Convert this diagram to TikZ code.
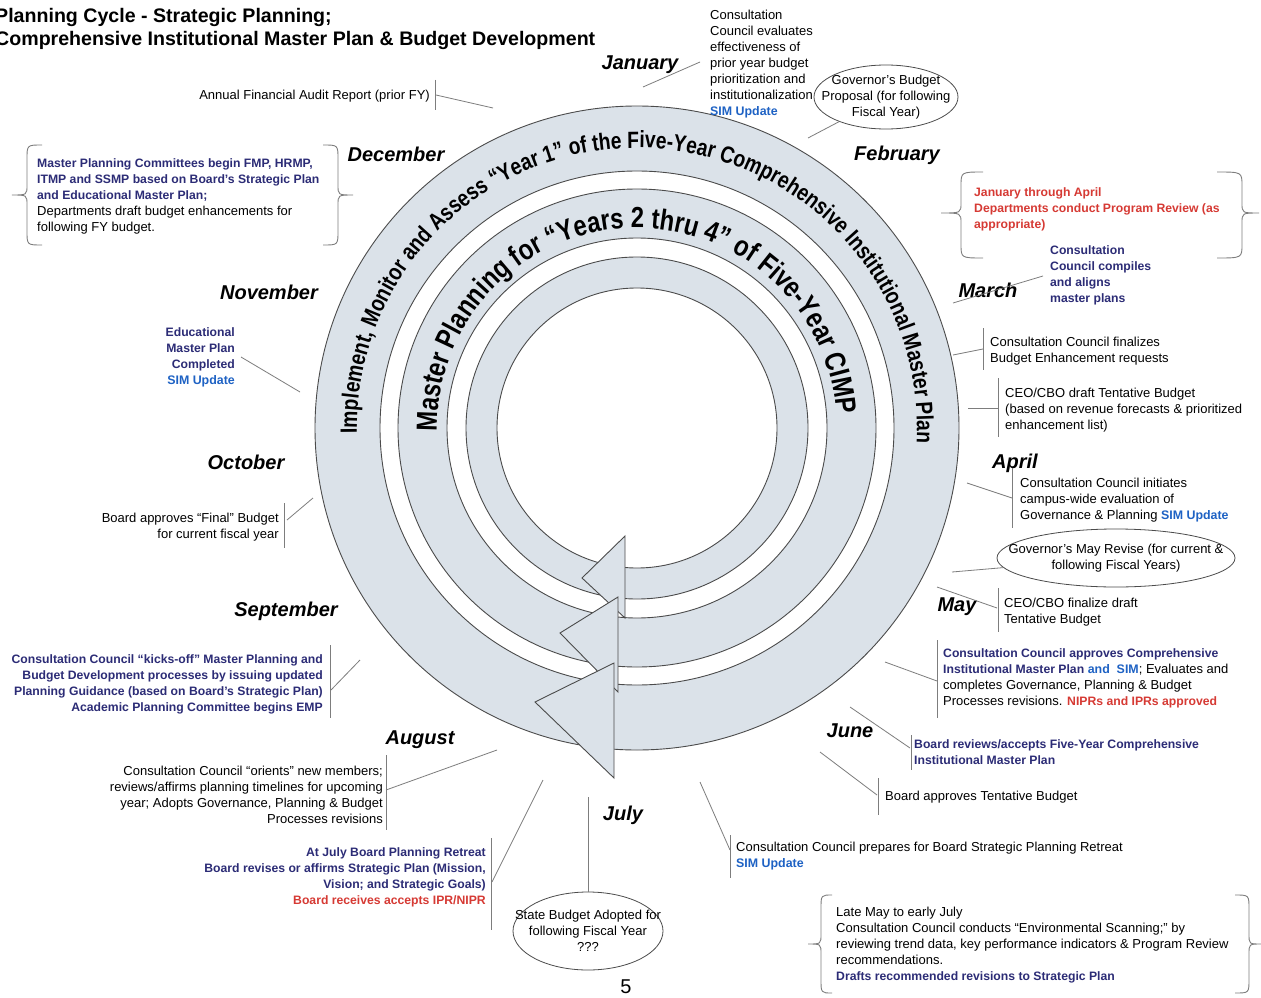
\documentclass[tikz,border=0pt]{standalone}
\usepackage{fontspec}
\setmainfont{Liberation Sans}
\newfontfamily\ringfont[FakeStretch=0.82]{Liberation Sans}
\usetikzlibrary{shapes.geometric,decorations.text}

\definecolor{cnavy}{RGB}{44,44,118}
\definecolor{cblue}{RGB}{30,98,196}
\definecolor{cred}{RGB}{214,58,52}
\definecolor{ringfill}{RGB}{219,226,233}
\definecolor{ringline}{RGB}{75,75,75}
\definecolor{leadgray}{RGB}{125,125,125}

\newcommand{\navytxt}[1]{{\fontsize{12.2}{16}\selectfont\bfseries\color{cnavy}#1}}
\newcommand{\bluetxt}[1]{{\fontsize{12.4}{16}\selectfont\bfseries\color{cblue}#1}}
\newcommand{\redtxt}[1]{{\fontsize{12.2}{16}\selectfont\bfseries\color{cred}#1}}

% curly brace: tip x, stem x, point x, top y, middle y, bottom y (y measured downwards)
\newcommand{\bracketcurve}[6]{%
  \draw[bracestyle] (#1,-#4) .. controls (#2,-#4) .. (#2,{-#4-14})
    -- (#2,{-#5+10}) .. controls (#2,-#5) .. (#3,-#5)
    .. controls (#2,-#5) .. (#2,{-#5-10})
    -- (#2,{-#6+14}) .. controls (#2,-#6) .. (#1,-#6);}

\begin{document}
\begin{tikzpicture}[x=1pt,y=1pt,
  ring/.style={fill=ringfill,draw=ringline,line width=0.9pt},
  leader/.style={draw=leadgray,line width=0.8pt},
  bracestyle/.style={draw=leadgray,line width=0.9pt},
  txt/.style={font=\fontsize{13}{16}\selectfont,inner sep=0pt},
  ltxt/.style={txt,align=left,anchor=north west},
  rtxt/.style={txt,align=right,anchor=north east},
  ctxt/.style={txt,align=center,anchor=center},
  month/.style={font=\fontsize{20}{24}\selectfont\bfseries\itshape,inner sep=0pt},
  bubble/.style={ellipse,draw=ringline,line width=0.8pt,fill=white,inner sep=0pt},
  heading/.style={font=\fontsize{19.6}{23}\selectfont\bfseries,inner sep=0pt,align=left,anchor=north west}]

\path[fill=white] (0,0) rectangle (1261,-998);
\useasboundingbox (0,0) rectangle (1261,-998);

% ---------- concentric planning rings ----------
\begin{scope}[shift={(637,-428)}]
  \coordinate (hub) at (0,0);
  \path[ring,even odd rule] (hub) circle[radius=322] (hub) circle[radius=257];
  \path[ring,even odd rule] (hub) circle[radius=239] (hub) circle[radius=190];
  \path[ring,even odd rule] (hub) circle[radius=171] (hub) circle[radius=140];
  \path[decorate,decoration={text along path,text align=center,
     text={|\ringfont\fontsize{23.5}{24}\selectfont\bfseries|Implement, Monitor and Assess “Year 1” of the Five-Year Comprehensive Institutional Master Plan}}]
     (199:280) arc[start angle=199,end angle=-21,radius=280];
  \path[decorate,decoration={text along path,text align=center,
     text={|\ringfont\fontsize{29}{30}\selectfont\bfseries|Master Planning for “Years 2 thru 4” of Five-Year CIMP}}]
     (202.5:200) arc[start angle=202.5,end angle=-17.5,radius=200];
\end{scope}

% arrowheads closing each ring
\path[ring] (625,-536) -- (625,-618) -- (582,-578) -- cycle;
\path[ring] (618,-597) -- (618,-692) -- (560,-633) -- cycle;
\path[ring] (614,-663) -- (614,-778) -- (535,-702) -- cycle;

% ---------- title ----------
\node[heading] (title) at (-5,-8) {Planning Cycle - Strategic Planning;\\Comprehensive Institutional Master Plan \& Budget Development};

% ---------- month labels ----------
\node[month] (jan) at (640,-65) {January};
\node[month] (feb) at (897,-155) {February};
\node[month] (mar) at (988,-290) {March};
\node[month] (apr) at (1015,-463) {April};
\node[month] (may) at (957,-607) {May};
\node[month] (jun) at (850,-731) {June};
\node[month] (jul) at (623,-815) {July};
\node[month] (aug) at (420,-740) {August};
\node[month] (sep) at (286,-611) {September};
\node[month] (oct) at (246,-462) {October};
\node[month] (nov) at (269,-292) {November};
\node[month] (dec) at (396,-154) {December};

% ---------- annotations ----------
\node[rtxt] (audit) at (430,-90) {Annual Financial Audit Report (prior FY)};
\node[ltxt] (evaluate) at (710,-10) {Consultation\\Council evaluates\\effectiveness of\\prior year budget\\prioritization and\\institutionalization\\\bluetxt{SIM Update}};

\node[bubble,minimum width=144,minimum height=64] (gov) at (886,-97) {};
\node[ctxt] (govtext) at (gov.center) {Governor’s Budget\\Proposal (for following\\Fiscal Year)};

\node[ltxt] (review) at (974,-187) {\redtxt{January through April}\\\redtxt{Departments conduct Program Review (as}\\\redtxt{appropriate)}};
\node[ltxt] (compile) at (1050,-245) {\navytxt{Consultation}\\\navytxt{Council compiles}\\\navytxt{and aligns}\\\navytxt{master plans}};
\node[ltxt] (finalize) at (990,-337) {Consultation Council finalizes\\Budget Enhancement requests};
\node[ltxt] (draft) at (1005,-388) {CEO/CBO draft Tentative Budget\\(based on revenue forecasts \& prioritized\\enhancement list)};
\node[ltxt] (initiate) at (1020,-478) {Consultation Council initiates\\campus-wide evaluation of\\Governance \& Planning \bluetxt{SIM Update}};

\node[bubble,minimum width=238,minimum height=58] (mayrev) at (1116,-558) {};
\node[ctxt] (mayrevtext) at (mayrev.center) {Governor’s May Revise (for current \&\\following Fiscal Years)};

\node[ltxt] (ceofinal) at (1004,-598) {CEO/CBO finalize draft\\Tentative Budget};
\node[ltxt] (approve) at (943,-648) {\navytxt{Consultation Council approves Comprehensive}\\\navytxt{Institutional Master Plan} \bluetxt{and\ \ SIM}; Evaluates and\\completes Governance, Planning \& Budget\\Processes revisions. \redtxt{NIPRs and IPRs approved}};
\node[ltxt] (accept) at (914,-739) {\navytxt{Board reviews/accepts Five-Year Comprehensive}\\\navytxt{Institutional Master Plan}};
\node[ltxt] (tentative) at (885,-791) {Board approves Tentative Budget};
\node[ltxt] (prepare) at (736,-842) {Consultation Council prepares for Board Strategic Planning Retreat\\\bluetxt{SIM Update}};

\node[bubble,minimum width=150,minimum height=78] (state) at (588,-931) {};
\node[ctxt] (statetext) at (state.center) {State Budget Adopted for\\following Fiscal Year\\???};

\node[font=\fontsize{20}{24}\selectfont,inner sep=0pt] (pageno) at (626,-987) {5};

\node[ltxt] (scan) at (836,-907) {Late May to early July\\Consultation Council conducts “Environmental Scanning;” by\\reviewing trend data, key performance indicators \& Program Review\\recommendations.\\\navytxt{Drafts recommended revisions to Strategic Plan}};

\node[rtxt] (orient) at (383,-766) {Consultation Council “orients” new members;\\reviews/affirms planning timelines for upcoming\\year; Adopts Governance, Planning \& Budget\\Processes revisions};
\node[rtxt] (retreat) at (486,-847) {\navytxt{At July Board Planning Retreat}\\\navytxt{Board revises or affirms Strategic Plan (Mission,}\\\navytxt{Vision; and Strategic Goals)}\\\redtxt{Board receives accepts IPR/NIPR}};
\node[rtxt] (kickoff) at (323,-654) {\navytxt{Consultation Council “kicks-off” Master Planning and}\\\navytxt{Budget Development processes by issuing updated}\\\navytxt{Planning Guidance (based on Board’s Strategic Plan)}\\\navytxt{Academic Planning Committee begins EMP}};
\node[rtxt] (finalbudget) at (279,-513) {Board approves “Final” Budget\\for current fiscal year};
\node[rtxt] (emp) at (235,-327) {\navytxt{Educational}\\\navytxt{Master Plan}\\\navytxt{Completed}\\\bluetxt{SIM Update}};
\node[ltxt] (committees) at (37,-158) {\navytxt{Master Planning Committees begin FMP, HRMP,}\\\navytxt{ITMP and SSMP based on Board’s Strategic Plan}\\\navytxt{and Educational Master Plan;}\\Departments draft budget enhancements for\\following FY budget.};

% ---------- braces round the three boxed notes ----------
\bracketcurve{42}{27}{12}{145}{195}{245}
\bracketcurve{323}{338}{353}{145}{195}{245}
\bracketcurve{983}{961}{941}{172}{213}{258}
\bracketcurve{1217}{1242}{1259}{172}{213}{258}
\bracketcurve{832}{821}{808}{895}{944}{993}
\bracketcurve{1235}{1249}{1261}{895}{944}{993}

% ---------- leader lines and side bars ----------
\coordinate (auditA) at (436,-95);   \coordinate (auditB) at (493,-108);
\coordinate (auditT) at (435,-80);   \coordinate (auditU) at (435,-110);
\draw[leader] (auditA) -- (auditB);  \draw[leader] (auditT) -- (auditU);

\coordinate (janA) at (643,-87);     \coordinate (janB) at (700,-62);
\draw[leader] (janA) -- (janB);

\coordinate (govA) at (808,-138);
\draw[leader] (govA) -- (gov);

\coordinate (marA) at (953,-303);    \coordinate (marB) at (1043,-276);
\draw[leader] (marA) -- (marB);

\coordinate (finA) at (953,-355);    \coordinate (finB) at (983,-349);
\coordinate (finT) at (983,-328);    \coordinate (finU) at (983,-370);
\draw[leader] (finA) -- (finB);      \draw[leader] (finT) -- (finU);

\coordinate (ceoA) at (968,-408);    \coordinate (ceoB) at (998,-408);
\coordinate (ceoT) at (998,-378);    \coordinate (ceoU) at (998,-437);
\draw[leader] (ceoA) -- (ceoB);      \draw[leader] (ceoT) -- (ceoU);

\coordinate (aprA) at (967,-483);    \coordinate (aprB) at (1012,-498);
\coordinate (aprT) at (1012,-468);   \coordinate (aprU) at (1012,-528);
\draw[leader] (aprA) -- (aprB);      \draw[leader] (aprT) -- (aprU);

\coordinate (revA) at (952,-572);
\draw[leader] (revA) -- (mayrev);

\coordinate (mayA) at (937,-587);    \coordinate (mayB) at (997,-608);
\coordinate (mayT) at (998,-588);    \coordinate (mayU) at (998,-632);
\draw[leader] (mayA) -- (mayB);      \draw[leader] (mayT) -- (mayU);

\coordinate (appA) at (885,-662);    \coordinate (appB) at (937,-681);
\coordinate (appT) at (937,-640);    \coordinate (appU) at (937,-718);
\draw[leader] (appA) -- (appB);      \draw[leader] (appT) -- (appU);

\coordinate (junA) at (850,-707);    \coordinate (junB) at (910,-748);
\coordinate (junT) at (911,-735);    \coordinate (junU) at (911,-770);
\draw[leader] (junA) -- (junB);      \draw[leader] (junT) -- (junU);

\coordinate (tenA) at (820,-752);    \coordinate (tenB) at (877,-795);
\coordinate (tenT) at (878,-778);    \coordinate (tenU) at (878,-815);
\draw[leader] (tenA) -- (tenB);      \draw[leader] (tenT) -- (tenU);

\coordinate (preA) at (700,-782);    \coordinate (preB) at (730,-850);
\coordinate (preT) at (730,-835);    \coordinate (preU) at (730,-878);
\draw[leader] (preA) -- (preB);      \draw[leader] (preT) -- (preU);

\coordinate (staA) at (588,-797);
\draw[leader] (staA) -- (state);

\coordinate (retA) at (543,-780);    \coordinate (retB) at (492,-882);
\coordinate (retT) at (491,-838);    \coordinate (retU) at (491,-930);
\draw[leader] (retA) -- (retB);      \draw[leader] (retT) -- (retU);

\coordinate (augA) at (497,-750);    \coordinate (augB) at (386,-790);
\coordinate (augT) at (386,-755);    \coordinate (augU) at (386,-830);
\draw[leader] (augA) -- (augB);      \draw[leader] (augT) -- (augU);

\coordinate (sepA) at (360,-660);    \coordinate (sepB) at (331,-690);
\coordinate (sepT) at (330,-645);    \coordinate (sepU) at (330,-718);
\draw[leader] (sepA) -- (sepB);      \draw[leader] (sepT) -- (sepU);

\coordinate (octA) at (313,-498);    \coordinate (octB) at (287,-520);
\coordinate (octT) at (284,-503);    \coordinate (octU) at (284,-548);
\draw[leader] (octA) -- (octB);      \draw[leader] (octT) -- (octU);

\coordinate (novA) at (241,-357);    \coordinate (novB) at (300,-392);
\draw[leader] (novA) -- (novB);

\end{tikzpicture}
\end{document}
